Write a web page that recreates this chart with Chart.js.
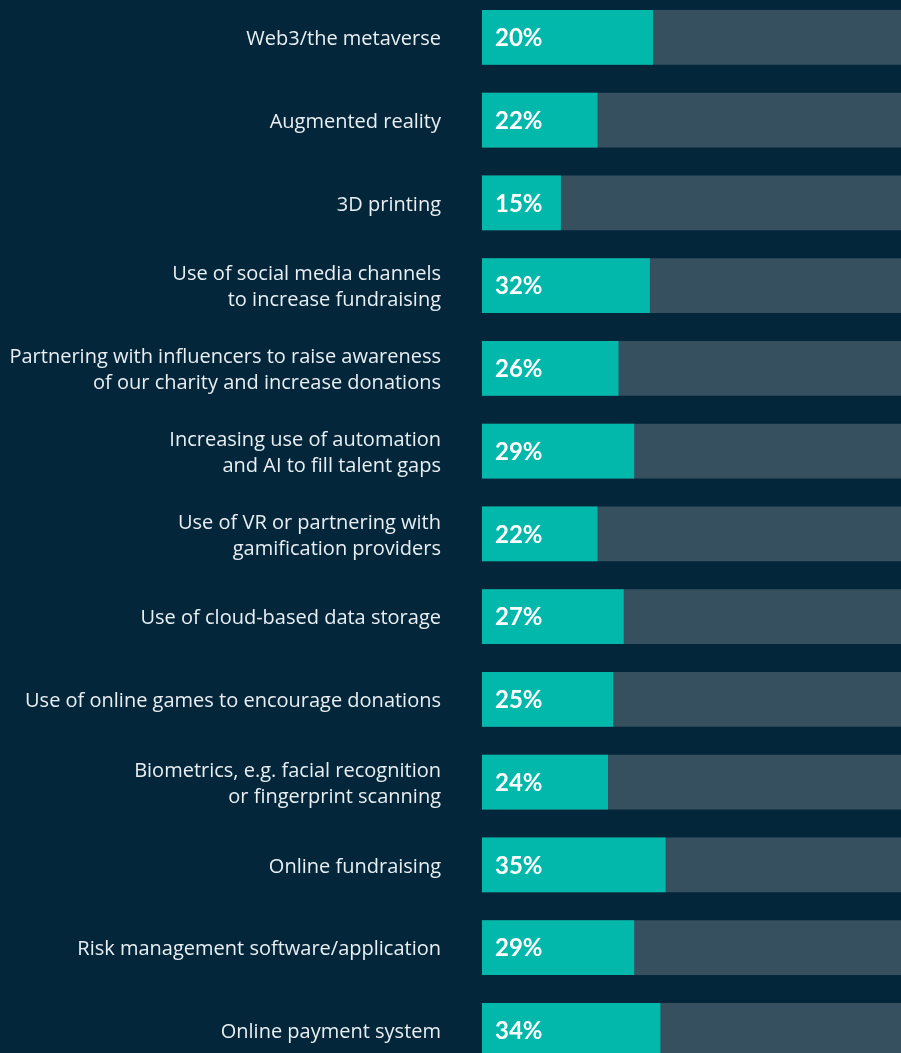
<!DOCTYPE html>
<html>
<head>
<meta charset="utf-8">
<script src="https://cdn.jsdelivr.net/npm/chart.js@4"></script>
<style>
  html, body { margin: 0; padding: 0; background: #03263a; overflow: hidden; }
  #wrap { position: absolute; left: 0; top: -4.4px; width: 901px; height: 1075.8px; }
</style>
</head>
<body>
<div id="wrap"><canvas id="chart"></canvas></div>
<script>
// categories, top to bottom
const categories = [
  ['Web3/the metaverse'],
  ['Augmented reality'],
  ['3D printing'],
  ['Use of social media channels', 'to increase fundraising'],
  ['Partnering with influencers to raise awareness', 'of our charity and increase donations'],
  ['Increasing use of automation', 'and AI to fill talent gaps'],
  ['Use of VR or partnering with', 'gamification providers'],
  ['Use of cloud-based data storage'],
  ['Use of online games to encourage donations'],
  ['Biometrics, e.g. facial recognition', 'or fingerprint scanning'],
  ['Online fundraising'],
  ['Risk management software/application'],
  ['Online payment system']
];

// printed percentages
const shares = [20, 22, 15, 32, 26, 29, 22, 27, 25, 24, 35, 29, 34];

// bar lengths as drawn (the first bar is drawn longer than its label)
const barLengths = [32.6, 22, 15, 32, 26, 29, 22, 27, 25, 24, 35, 29, 34];

// grey track behind each bar
const trackMax = 80;
const trackValues = categories.map(() => trackMax);

const labelPlugin = {
  id: 'labels',
  afterDatasetsDraw(chart) {
    const ctx = chart.ctx;
    const y = chart.scales.y;
    const bars = chart.getDatasetMeta(0).data;
    ctx.save();

    // category labels, right aligned left of the bars
    ctx.font = '20px "Open Sans"';
    ctx.fillStyle = '#e9eff3';
    ctx.textAlign = 'right';
    ctx.textBaseline = 'middle';
    categories.forEach((lines, i) => {
      const cy = y.getPixelForTick(i) + 2;
      lines.forEach((line, j) => {
        ctx.fillText(line, chart.chartArea.left - 41, cy + (j - (lines.length - 1) / 2) * 26);
      });
    });

    // percentages inside the bars
    ctx.font = 'bold 24px Lato';
    ctx.fillStyle = '#ffffff';
    ctx.textAlign = 'left';
    bars.forEach((bar, i) => {
      ctx.fillText(shares[i] + '%', bar.base + 13, bar.y + 1);
    });
    ctx.restore();
  }
};

new Chart(document.getElementById('chart'), {
  type: 'bar',
  data: {
    labels: categories,
    datasets: [
      {
        data: barLengths,
        backgroundColor: '#02b8ab',
        order: 0
      },
      {
        data: trackValues,
        backgroundColor: '#36505f',
        order: 1
      }
    ]
  },
  options: {
    indexAxis: 'y',
    responsive: true,
    maintainAspectRatio: false,
    animation: false,
    layout: { padding: 0 },
    datasets: {
      bar: { grouped: false, barThickness: 54, borderWidth: 0 }
    },
    plugins: {
      legend: { display: false },
      tooltip: { enabled: false }
    },
    scales: {
      x: { display: false, min: 0, max: trackMax },
      y: {
        ticks: { display: false },
        grid: { display: false, drawTicks: false },
        border: { display: false },
        afterFit(scale) { scale.width = 482; }
      }
    }
  },
  plugins: [labelPlugin]
});
</script>
</body>
</html>
